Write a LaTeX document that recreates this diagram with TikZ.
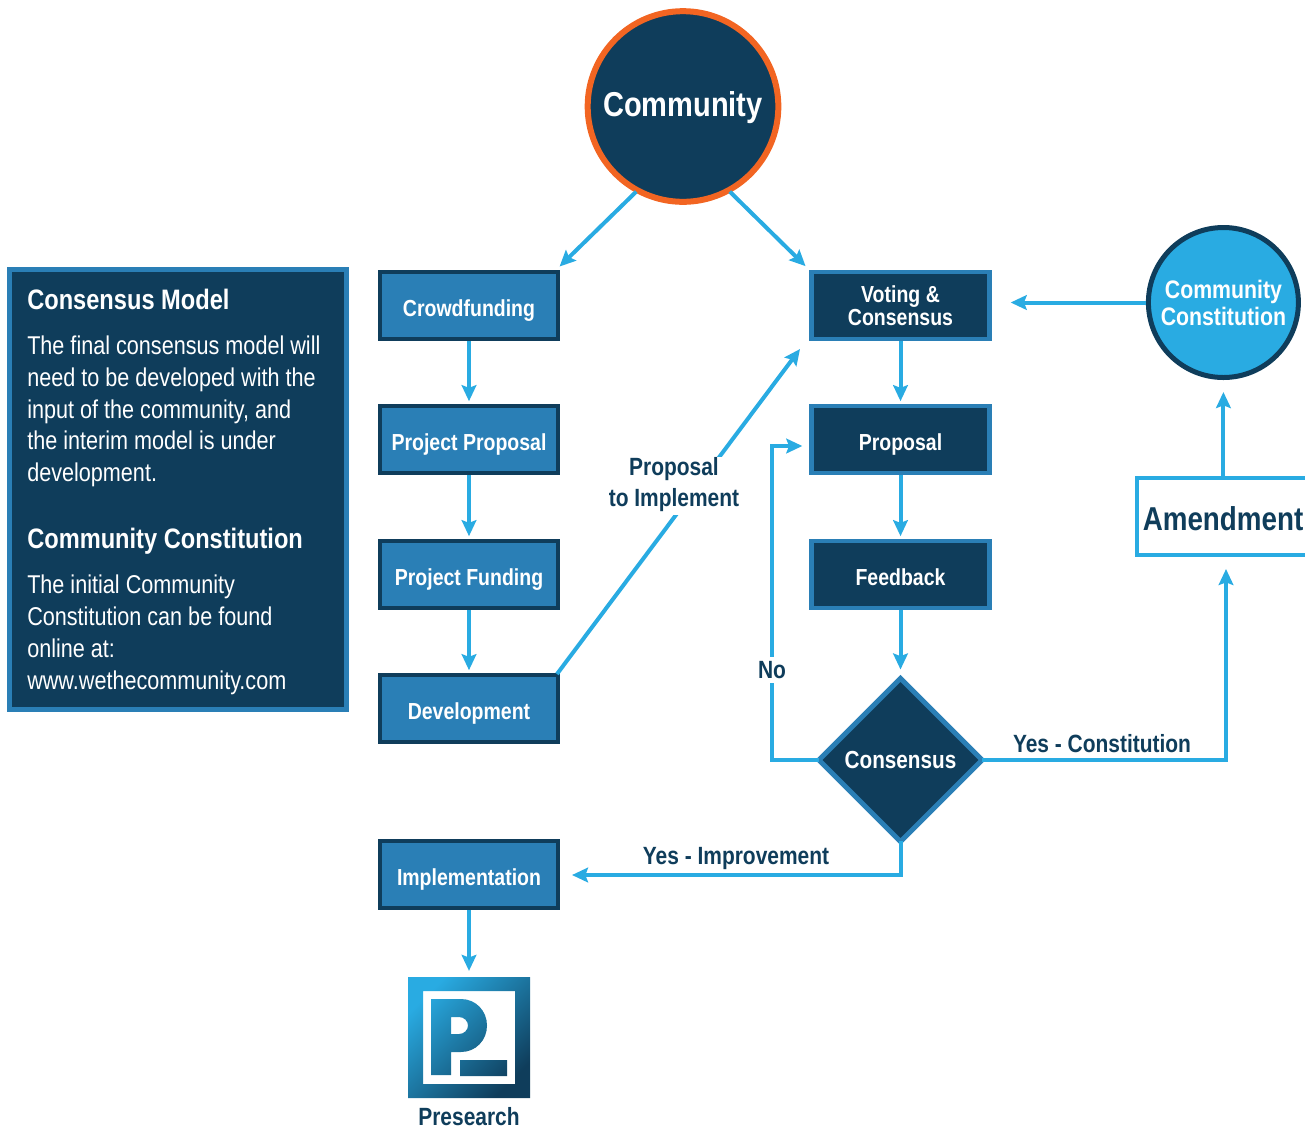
\documentclass[tikz,border=0pt]{standalone}
\usepackage{fontspec}
\setmainfont{Liberation Sans}[FakeStretch=0.84]
\usetikzlibrary{arrows.meta,shapes.geometric}
\definecolor{navy}{HTML}{0F3D5B}
\definecolor{midblue}{HTML}{2A7FB6}
\definecolor{sky}{HTML}{29ABE2}
\definecolor{flame}{HTML}{F26522}
\tikzset{
  x=0.75pt,y=-0.75pt,
  flowbox/.style={rectangle,minimum width=133.5pt,minimum height=50.25pt,inner sep=0pt,line width=3.2pt,text=white,font=\fontsize{17.4}{17}\selectfont\bfseries,align=center},
  oneline/.style={text height=16pt,text depth=0pt},
  leftbox/.style={flowbox,oneline,draw=navy,fill=midblue},
  rightbox/.style={flowbox,draw=midblue,fill=navy},
  link/.style={draw=sky,line width=3pt,-{Stealth[length=12pt,width=11pt,inset=2pt]}},
  edgelabel/.style={text=navy,font=\fontsize{18.7}{23.3}\selectfont\bfseries,align=center,inner sep=0pt},
  paneltext/.style={text=white,font=\fontsize{19.3}{23.85}\selectfont,align=left,anchor=north west,inner sep=0pt},
  panelhead/.style={text=white,font=\fontsize{21.1}{24}\selectfont\bfseries,anchor=base west,inner sep=0pt},
}
\begin{document}
\begin{tikzpicture}
\useasboundingbox (0,0) rectangle (1305,1129);
% panel
\node[rectangle,draw=midblue,fill=navy,line width=3.75pt,minimum width=252.75pt,minimum height=330pt,inner sep=0pt] (panel) at (178,489.5) {};
\node[panelhead] (h1) at (27,309) {Consensus Model};
\node[paneltext] (p1) at (27,335.5) {The final consensus model will\\need to be developed with the\\input of the community, and\\the interim model is under\\development.};
\node[panelhead] (h2) at (27,548) {Community Constitution};
\node[paneltext] (p2) at (27,575) {The initial Community\\Constitution can be found\\online at:\\www.wethecommunity.com};
% circles
\node[circle,draw=flame,fill=navy,line width=4.5pt,minimum size=143pt,inner sep=0pt,text=white,font=\fontsize{25.9}{28}\selectfont\bfseries,text height=20pt,text depth=5pt] (comm) at (683,106.5) {Community};
\node[circle,draw=navy,fill=sky,line width=3.75pt,minimum size=112.5pt,inner sep=0pt,text=white,font=\fontsize{19}{20.2}\selectfont\bfseries,align=center] (cc) at (1223.4,302.5) {Community\\Constitution};
% left column
\node[leftbox] (crowd) at (469,305.5) {Crowdfunding};
\node[leftbox] (pp) at (469,439.5) {Project Proposal};
\node[leftbox] (pf) at (469,574.5) {Project Funding};
\node[leftbox] (dev) at (469,708.5) {Development};
\node[leftbox] (impl) at (469,874.5) {Implementation};
% right column
\node[rightbox] (vote) at (900.5,305.5) {Voting \&\hspace{3pt}\\Consensus};
\node[rightbox,oneline] (prop) at (900.5,439.5) {Proposal};
\node[rightbox,oneline] (feed) at (900.5,574.5) {Feedback};
\node[diamond,draw=midblue,fill=navy,line width=3.75pt,aspect=1,minimum width=124pt,minimum height=124pt,inner sep=0pt,text=white,font=\fontsize{18.5}{20}\selectfont\bfseries] (cons) at (900.5,760) {Consensus};
% amendment (its right side runs off the page)
\node[rectangle,draw=sky,fill=white,line width=3pt,minimum width=129pt,minimum height=58pt,inner sep=0pt,text=navy,font=\fontsize{24.8}{26}\selectfont\bfseries,text height=21pt,text depth=0pt] (amend) at (1223,516.5) {Amendment};
% logo
\node[minimum size=91.5pt,inner sep=0pt] (logo) at (469,1037.5) {};
\shade[even odd rule,shading=axis,left color=sky,right color=navy,shading angle=45]
  (408,977) rectangle (530,1098)
  (423,991) rectangle (515,1084)
  (431,999) -- (461,999) .. controls (476,999) and (487,1011) .. (487,1025.5) .. controls (487,1040) and (476,1052) .. (461,1052) -- (451,1052) -- (451,1075) -- (431,1075) -- cycle
  (451,1017) -- (459,1017) .. controls (464,1017) and (468,1021) .. (468,1025.5) .. controls (468,1030) and (464,1034) .. (459,1034) -- (451,1034) -- cycle
  (460,1060) rectangle (507,1076);
\node[edgelabel] (pres) at (469,1116.5) {Presearch};
% helper coordinates
\coordinate (crowdin) at (556,270);
\coordinate (propin) at (809,446);
\coordinate (noturn) at (772,760);
\coordinate (noup) at (772,446);
\coordinate (yesturn) at (1226,760);
\coordinate (amendin) at (1226,557);
\coordinate (impturn) at (cons.south |- 0,875);
\coordinate (implin) at (560,875);
\coordinate (votein) at (992,302.5);
\coordinate (devout) at (557,674);
\coordinate (voteout) at (806,341);
% connectors
\draw[link,shorten >=3.75pt,shorten <=-1pt] (comm.241) -- (crowdin);
\draw[link,shorten >=4pt,shorten <=-1pt] (comm.299) -- (vote.north west);
\draw[link,shorten >=2pt] (crowd.south) -- (pp.north);
\draw[link,shorten >=2pt] (pp.south) -- (pf.north);
\draw[link,shorten >=2pt] (pf.south) -- (dev.north);
\draw[link,shorten >=4pt] (impl.south) -- (logo.north);
\draw[link,shorten >=2pt] (vote.south) -- (prop.north);
\draw[link,shorten >=2pt] (prop.south) -- (feed.north);
\draw[link,shorten >=4pt] (feed.south) -- (cons.north);
\draw[link,shorten >=14pt] (cc.west) -- (votein);
\draw[link,shorten >=9pt] (amend.north -| cc.south) -- (cc.south);
\draw[link,shorten >=7.5pt] (devout) -- (voteout);
\draw[link,shorten >=5pt,shorten <=-3pt] (cons.west) -- (noturn) -- (noup) -- (propin);
\draw[link,shorten >=9pt,shorten <=-3pt] (cons.east) -- (yesturn) -- (amendin);
\draw[link,shorten >=9pt,shorten <=-3pt] (cons.south) -- (impturn) -- (implin);
% labels
\node[edgelabel,fill=white,minimum width=97pt,anchor=north] (pti) at (674,457) {Proposal\\to Implement\rule[-6.75pt]{0pt}{6.75pt}};
\node[edgelabel,fill=white,inner ysep=3pt] (no) at (772,670) {No};
\node[edgelabel,anchor=base] (yc) at (1102,752) {Yes - Constitution};
\node[edgelabel,anchor=base] (yi) at (736,864) {Yes - Improvement};
\end{tikzpicture}
\end{document}
